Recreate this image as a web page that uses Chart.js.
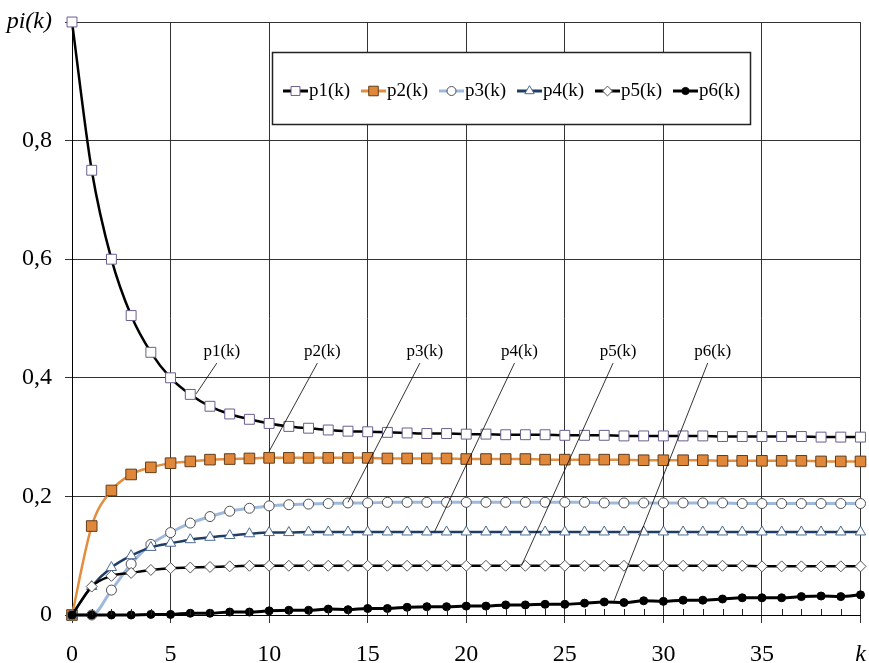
<!DOCTYPE html>
<html>
<head>
<meta charset="utf-8">
<script src="https://cdn.jsdelivr.net/npm/chart.js@4.4.1/dist/chart.umd.min.js"></script>
<style>
  html, body { margin: 0; padding: 0; background: #fff; }
  #wrap { width: 869px; height: 663px; }
</style>
</head>
<body>
<div id="wrap"><canvas id="c" width="869" height="663"></canvas></div>
<script>
// --- datos ---
const kValues = Array.from({ length: 41 }, (_, i) => i);

const p1 = [1.0, 0.75, 0.60, 0.505, 0.443, 0.400, 0.372, 0.352, 0.339, 0.330, 0.323, 0.318, 0.315, 0.312, 0.310,
    0.309, 0.308, 0.307, 0.306, 0.306, 0.305, 0.305, 0.304, 0.304, 0.304, 0.303, 0.303, 0.303, 0.302, 0.302,
    0.302, 0.302, 0.302, 0.301, 0.301, 0.301, 0.301, 0.301, 0.300, 0.300, 0.300];
const p2 = [0, 0.150, 0.210, 0.237, 0.249, 0.256, 0.259, 0.262, 0.263, 0.264, 0.265, 0.265, 0.265, 0.265, 0.265,
    0.265, 0.264, 0.264, 0.264, 0.264, 0.263, 0.263, 0.263, 0.263, 0.262, 0.262, 0.262, 0.262, 0.262, 0.261,
    0.261, 0.261, 0.261, 0.260, 0.260, 0.260, 0.260, 0.260, 0.259, 0.259, 0.259];
const p3 = [0, 0, 0.042, 0.086, 0.119, 0.139, 0.155, 0.166, 0.175, 0.180, 0.184, 0.186, 0.187, 0.188, 0.189,
    0.189, 0.190, 0.190, 0.190, 0.190, 0.190, 0.190, 0.190, 0.190, 0.190, 0.190, 0.190, 0.189, 0.189, 0.189,
    0.189, 0.189, 0.189, 0.189, 0.188, 0.188, 0.188, 0.188, 0.188, 0.188, 0.188];
const p4 = [0, 0.048, 0.080, 0.100, 0.114, 0.121, 0.127, 0.131, 0.134, 0.137, 0.139, 0.139, 0.140, 0.140, 0.140,
    0.140, 0.140, 0.140, 0.140, 0.140, 0.140, 0.140, 0.140, 0.140, 0.140, 0.140, 0.140, 0.140, 0.140, 0.140,
    0.140, 0.140, 0.140, 0.140, 0.140, 0.140, 0.140, 0.140, 0.140, 0.140, 0.140];
const p5 = [0, 0.048, 0.066, 0.071, 0.076, 0.079, 0.080, 0.081, 0.082, 0.083, 0.083, 0.083, 0.083, 0.083, 0.083,
    0.083, 0.083, 0.083, 0.083, 0.083, 0.083, 0.083, 0.083, 0.083, 0.083, 0.083, 0.083, 0.083, 0.083, 0.083,
    0.083, 0.083, 0.083, 0.083, 0.083, 0.082, 0.082, 0.082, 0.082, 0.082, 0.082];
const p6 = [0, 0, 0, 0, 0.001, 0.001, 0.003, 0.003, 0.005, 0.005, 0.007, 0.008, 0.008, 0.010, 0.009,
    0.011, 0.011, 0.013, 0.014, 0.014, 0.015, 0.015, 0.017, 0.017, 0.018, 0.018, 0.020, 0.022, 0.021, 0.024,
    0.023, 0.025, 0.025, 0.027, 0.029, 0.029, 0.029, 0.031, 0.032, 0.031, 0.034];

const seriesNames = ['p1(k)', 'p2(k)', 'p3(k)', 'p4(k)', 'p5(k)', 'p6(k)'];
const xTicks = [0, 5, 10, 15, 20, 25, 30, 35, 40];   // 40 -> "k"
const yTicks = [0, 0.2, 0.4, 0.6, 0.8, 1.0];         // 1 -> "pi(k)"

// llamadas: texto en (labelK, labelY), línea hasta (anchorK, anchorY)
const calloutLabelK = [7.6, 12.7, 17.9, 22.7, 27.7, 32.5];
const calloutLabelY = 0.445;
const calloutAnchorK = [6.3, 10.0, 14.0, 18.4, 22.8, 27.5];
const calloutAnchorY = [0.373, 0.276, 0.190, 0.141, 0.083, 0.024];

const SERIF = '"Liberation Serif", "DejaVu Serif", serif';

// --- estilos de series ---
const styles = [
    { line: '#000000', width: 2.5, point: 'rect', r: 7, fill: '#ffffff', edge: '#6b5e8e' },
    { line: '#e38d3e', width: 2.5, point: 'rect', r: 7.5, fill: '#e0873a', edge: '#5e3d1c' },
    { line: '#9fb9dc', width: 3, point: 'circle', r: 5, fill: '#ffffff', edge: '#505050' },
    { line: '#1f3d63', width: 2.5, point: 'triangle', r: 6, fill: '#ffffff', edge: '#4c6a90' },
    { line: '#000000', width: 2.5, point: 'rectRot', r: 5.5, fill: '#ffffff', edge: '#555555' },
    { line: '#000000', width: 3, point: 'circle', r: 4, fill: '#000000', edge: '#000000' }
];

const allSeries = [p1, p2, p3, p4, p5, p6];

const datasets = allSeries.map((vals, i) => ({
    label: seriesNames[i],
    data: vals.map((v, j) => ({ x: kValues[j], y: v })),
    borderColor: styles[i].line,
    borderWidth: styles[i].width,
    pointStyle: styles[i].point,
    pointRadius: styles[i].r,
    pointBackgroundColor: styles[i].fill,
    pointBorderColor: styles[i].edge,
    pointBorderWidth: 1,
    tension: 0.4,
    cubicInterpolationMode: 'monotone',
    clip: false,
    order: 6 - i
}));

// --- plugins ---
const whiteBg = {
    id: 'whiteBg',
    beforeDraw(chart) {
        const ctx = chart.ctx;
        ctx.save();
        ctx.fillStyle = '#fff';
        ctx.fillRect(0, 0, chart.width, chart.height);
        ctx.restore();
    }
};

const minorTicks = {
    id: 'minorTicks',
    afterDraw(chart) {
        const ctx = chart.ctx;
        const xs = chart.scales.x, ys = chart.scales.y;
        const y0 = ys.getPixelForValue(0);
        ctx.save();
        ctx.strokeStyle = '#222';
        ctx.lineWidth = 1;
        kValues.forEach(k => {
            if (k % 5 === 0) return;
            const x = Math.round(xs.getPixelForValue(k)) + 0.5;
            ctx.beginPath();
            ctx.moveTo(x, y0);
            ctx.lineTo(x, y0 - 6);
            ctx.stroke();
        });
        ctx.restore();
    }
};

const callouts = {
    id: 'callouts',
    afterDatasetsDraw(chart) {
        const ctx = chart.ctx;
        const xs = chart.scales.x, ys = chart.scales.y;
        ctx.save();
        ctx.font = `17px ${SERIF}`;
        ctx.fillStyle = '#000';
        ctx.textAlign = 'center';
        ctx.textBaseline = 'middle';
        seriesNames.forEach((name, i) => {
            const lx = xs.getPixelForValue(calloutLabelK[i]);
            const ly = ys.getPixelForValue(calloutLabelY);
            ctx.fillText(name, lx, ly);
            ctx.strokeStyle = '#000';
            ctx.lineWidth = 0.8;
            ctx.beginPath();
            ctx.moveTo(lx - 5, ly + 12);
            ctx.lineTo(xs.getPixelForValue(calloutAnchorK[i]), ys.getPixelForValue(calloutAnchorY[i]));
            ctx.stroke();
        });
        ctx.restore();
    }
};

function drawMarker(ctx, st, x, y) {
    ctx.fillStyle = st.fill;
    ctx.strokeStyle = st.edge;
    ctx.lineWidth = 1;
    Chart.helpers.drawPoint(ctx, { pointStyle: st.point, radius: st.r * 0.9, rotation: 0, borderWidth: 1 }, x, y);
}

const boxLegend = {
    id: 'boxLegend',
    afterDraw(chart) {
        const ctx = chart.ctx;
        const bx = 272, by = 52, bw = 478, bh = 72;
        ctx.save();
        ctx.fillStyle = '#fff';
        ctx.fillRect(bx, by, bw, bh);
        ctx.strokeStyle = '#222';
        ctx.lineWidth = 1.5;
        ctx.strokeRect(bx + 0.5, by + 0.5, bw, bh);
        ctx.font = `19px ${SERIF}`;
        ctx.textBaseline = 'middle';
        ctx.textAlign = 'left';
        const cy = by + bh / 2 + 3;
        seriesNames.forEach((name, i) => {
            const st = styles[i];
            const x0 = 283 + i * 78;
            ctx.strokeStyle = st.line;
            ctx.lineWidth = 3;
            ctx.beginPath();
            ctx.moveTo(x0, cy);
            ctx.lineTo(x0 + 25, cy);
            ctx.stroke();
            drawMarker(ctx, st, x0 + 12.5, cy);
            ctx.fillStyle = '#000';
            ctx.fillText(name, x0 + 26, cy);
        });
        ctx.restore();
    }
};

new Chart(document.getElementById('c'), {
    type: 'line',
    data: { datasets },
    options: {
        responsive: false,
        animation: false,
        layout: { padding: { top: 22, right: 4, left: 0, bottom: 0 } },
        plugins: { legend: { display: false }, tooltip: { enabled: false } },
        scales: {
            x: {
                type: 'linear',
                min: 0, max: 40,
                afterFit: s => { s.height = 48; s.paddingLeft = 0; s.paddingRight = 0; },
                afterBuildTicks: s => { s.ticks = xTicks.map(v => ({ value: v })); },
                grid: { color: '#333', lineWidth: 1, tickLength: 8 },
                border: { color: '#000', width: 1 },
                ticks: {
                    padding: 17,
                    color: '#000',
                    maxRotation: 0,
                    autoSkip: false,
                    font: c => ({ family: SERIF, size: 24, style: (c.tick && c.tick.value === 40) ? 'italic' : 'normal' }),
                    callback: v => v === 40 ? 'k' : String(v)
                }
            },
            y: {
                min: 0, max: 1,
                afterFit: s => { s.width = 72; s.paddingTop = 0; s.paddingBottom = 0; },
                afterBuildTicks: s => { s.ticks = yTicks.map(v => ({ value: v })); },
                grid: { color: '#333', lineWidth: 1, tickLength: 7 },
                border: { color: '#000', width: 1 },
                ticks: {
                    padding: 13,
                    color: '#000',
                    autoSkip: false,
                    font: c => ({ family: SERIF, size: 24, style: (c.tick && c.tick.value === 1) ? 'italic' : 'normal' }),
                    callback: v => v === 1 ? 'pi(k)' : (v === 0 ? '0' : v.toFixed(1).replace('.', ','))
                }
            }
        }
    },
    plugins: [whiteBg, minorTicks, callouts, boxLegend]
});
</script>
</body>
</html>
